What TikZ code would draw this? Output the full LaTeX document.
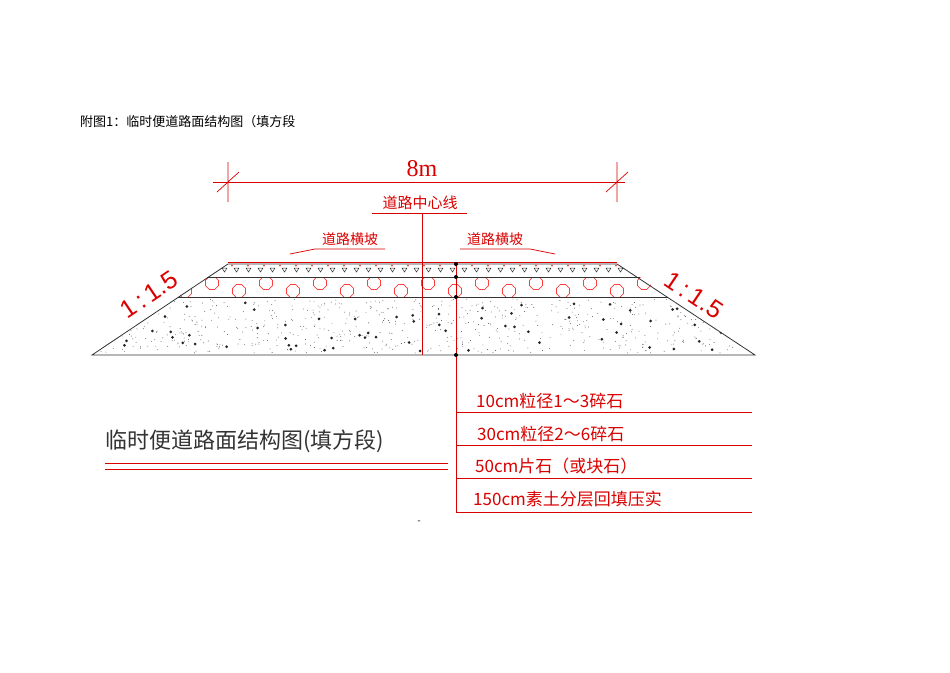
\documentclass[tikz,border=0pt]{standalone}
\usepackage{fontspec}
\setmainfont{Liberation Serif}
\newfontfamily\cjk{Noto Sans CJK SC}
\newfontfamily\lsans{Liberation Sans}
\begin{document}
\begin{tikzpicture}[x=1pt,y=-1pt,
  red line/.style={draw=red!85!black,line width=0.7pt},
  lay/.style={draw=black!80,line width=0.8pt},
  rtext/.style={text=red!85!black,inner sep=0pt},
  tabtext/.style={rtext,font=\cjk\fontsize{17}{17}\selectfont,anchor=base west}]
\useasboundingbox (0,0) rectangle (950,672);
\node[anchor=base west,inner sep=0pt,font=\cjk\fontsize{13}{13}\selectfont] (head) at (80,126) {附图1：临时便道路面结构图（填方段};
% layer fills
\begin{scope}
\clip (228,264) -- (617,264) -- (640,277) -- (207,277) -- cycle;
\foreach \x in {210,222,...,640} {\draw[black!80,line width=0.5pt] (\x,268) -- ++(5,0) -- ++(-2.5,4) -- cycle;}
\foreach \x in {216,232,...,640} {\fill[red!70] (\x,265.5) circle (1.2);}
\end{scope}
\begin{scope}
\clip (207,277) -- (640,277) -- (668,297) -- (178,297) -- cycle;
\foreach \x [count=\i] in {185,212,...,670} {\pgfmathsetmacro{\yy}{mod(\i,2)==0 ? 283 : 291}
  \draw[red!75,line width=0.7pt] (\x,\yy) +(22.5:7) -- +(67.5:7) -- +(112.5:7) -- +(157.5:7) -- +(202.5:7) -- +(247.5:7) -- +(292.5:7) -- +(337.5:7) -- cycle;}
\end{scope}
\begin{scope}
\clip (178,297) -- (668,297) -- (755,355) -- (92,355) -- cycle;
\pgfmathsetseed{7}
\foreach \k in {1,...,650} {\pgfmathsetmacro{\px}{92+663*rnd}\pgfmathsetmacro{\py}{299+54*rnd}
  \fill[black!70] (\px,\py) circle (0.45);}
\foreach \k in {1,...,70} {\pgfmathsetmacro{\px}{92+663*rnd}\pgfmathsetmacro{\py}{301+50*rnd}
  \fill[black!85] (\px,\py) circle (1.5);}
\end{scope}
% outline
\draw[lay] (228,264) -- (617,264) -- (755,355) -- (92,355) -- cycle;
\draw[lay] (207,277) -- (640,277);
\draw[lay] (178,297) -- (668,297);
\draw[red line] (228,262) -- (617,262);
% dimension
\draw[red line] (213,182) -- (625,182);
\draw[red line] (228,162) -- (228,202) (217,192) -- (239,172);
\draw[red line] (617,162) -- (617,202) (606,192) -- (628,172);
\node[rtext,font=\fontsize{24}{24}\selectfont] (dim) at (422,169) {8m};
% center line
\node[rtext,font=\cjk\fontsize{15}{15}\selectfont,anchor=south] (cl) at (420,210) {道路中心线};
\coordinate (clb) at (422,355);
\draw[red line] (372,213) -- (467,213);
\draw[red line] (422,213) -- (clb);
% cross slope labels
\node[rtext,font=\cjk\fontsize{14}{14}\selectfont,anchor=south] (hl) at (350,246) {道路横坡};
\node[rtext,font=\cjk\fontsize{14}{14}\selectfont,anchor=south] (hr) at (495,246) {道路横坡};
\draw[red line] (385,249) -- (315,249) -- (290,254);
\draw[red line] (460,249) -- (530,249) -- (555,254);
% slope ratios
\node[rtext,font=\lsans\fontsize{25}{25}\selectfont,rotate=34] (sl) at (149,295) {1\,:\,1.5};
\node[rtext,font=\lsans\fontsize{25}{25}\selectfont,rotate=-34] (sr) at (694,295) {1\,:\,1.5};
% leader & table
\coordinate (ld) at (456,264);
\draw[red line] (ld) -- (456,512);
\foreach \y in {264,277,297,355} {\fill[black] (456,\y) circle (2);}
\foreach \y in {412,445,478,512} {\draw[red line] (456,\y) -- (752,\y);}
\node[tabtext] (t1) at (476,407) {10cm粒径1～3碎石};
\node[tabtext] (t2) at (477,440) {30cm粒径2～6碎石};
\node[tabtext] (t3) at (475,472) {50cm片石（或块石）};
\node[tabtext] (t4) at (473,505) {150cm素土分层回填压实};
% title
\node[anchor=base west,inner sep=0pt,text=black!80,font=\cjk\fontsize{22}{22}\selectfont] (title) at (105,448) {临时便道路面结构图(填方段)};
\draw[red line] (105,463) -- (448,463) (105,469) -- (448,469);
\node[inner sep=0pt,font=\fontsize{9}{9}\selectfont] (dash) at (419,522) {-};
\end{tikzpicture}
\end{document}
